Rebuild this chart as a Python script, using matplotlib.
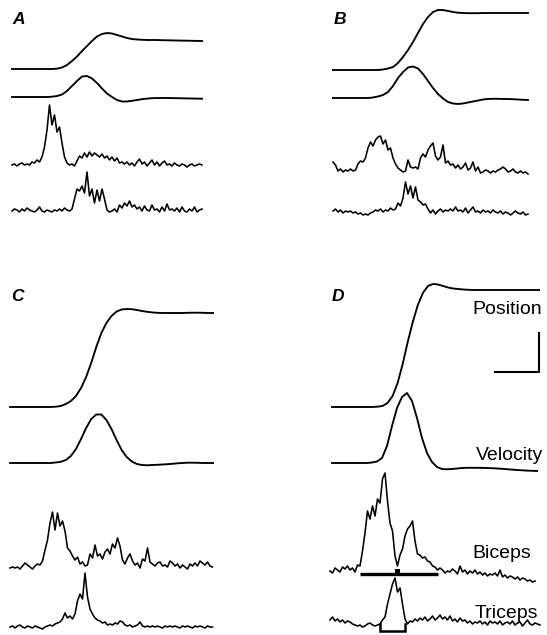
import numpy as np
import matplotlib
matplotlib.use("Agg")
import matplotlib.pyplot as plt

plt.rcParams["font.family"] = ["Liberation Sans", "DejaVu Sans"]

# ---- traces: amplitude above each baseline (picture units), uniform time steps ----
pos_a = [0, 0, 0, 0, 0, 0, 0, 0, 0, 0.3, 1.5, 4, 8, 12.5, 18, 23, 28, 32.5, 35, 36,
         35.5, 34, 32.5, 31, 30, 29.5, 29.2, 29, 29, 29, 28.8, 28.7, 28.6, 28.5, 28.4,
         28.3, 28.2, 28.1, 28]
vel_a = [0, 0, 0, 0, 0, 0, 0, 0, 0.3, 1, 2.5, 6, 11, 16, 20.5, 21, 18.5, 14, 8.5, 3.5,
         0, -3, -4.5, -4.5, -3.8, -3, -2.2, -1.6, -1.2, -1, -1, -1, -1.1, -1.2, -1.3,
         -1.4, -1.5, -1.6, -1.7]
bic_a = [0, 1, -1, 1, 2, 0, 1, 0, 3, 2, 5, 3, 8, 18, 35, 60, 40, 50, 33, 38,
         22, 8, 2, 0, 1, -1, 4, 9, 7, 12, 8, 13, 9, 12, 10, 8, 11, 7, 9, 5,
         8, 4, 7, 2, 3, 1, 3, 0, 2, -1, 3, 6, 1, 3, -1, 2, 5, 0, 3, -1,
         2, 4, 0, 1, -1, 2, 0, -1, 1, 0, -2, 0, 1, -1, 0, 1, 0]
tri_a = [0, 2, 1, -1, 2, 0, 3, 1, 0, -1, 1, 4, 0, -1, 1, 0, -1, 1, 0, 2,
         0, 3, 1, 0, 2, 12, 22, 20, 25, 18, 39, 15, 22, 8, 21, 10, 22, 12, 1, -1,
         0, 2, -1, 6, 3, 8, 5, 10, 4, 6, 2, 4, 0, 5, 1, 0, 6, 1, 2, -1,
         4, 0, 7, 1, 2, 0, 3, -1, 4, 0, -1, 2, 0, 4, -1, 1, 2]

pos_b = [0, 0, 0, 0, 0, 0, 0, 0, 0, 0, 0.5, 1.5, 3, 7, 13, 20, 28, 37, 46, 53,
         58, 60, 60, 59, 58, 57.3, 57, 56.8, 56.8, 56.8, 57, 57, 57, 57, 57, 57, 57,
         57, 57, 57]
vel_b = [0, 0, 0, 0, 0, 0, 0, 0, 0.5, 1.5, 3, 6, 12, 20, 26, 30.5, 31.5, 29.5, 24, 17,
         10, 4, -0.5, -4, -5.5, -6, -5.5, -4.5, -3.5, -2.5, -1.5, -1, -0.8, -0.8, -1,
         -1, -1.2, -1.5, -1.8, -2]
bic_b = [8, 5, -1, 1, -2, 0, -1, 1, -1, 0, 6, 9, 8, 12, 22, 28, 24, 30, 33, 34,
         26, 30, 20, 22, 12, 6, 2, 0, -2, -1, 10, 3, 2, 3, 1, 12, 16, 13, 20, 24,
         27, 14, 10, 13, 25, 7, 9, 5, 6, 2, 5, 1, 3, 7, 0, 2, 8, -1, 3, -3,
         -2, 0, -1, -3, -1, -2, 0, 1, 3, 1, -2, -1, 1, -2, -3, -1, -3, -2, -4]
tri_b = [1, 3, 0, 2, -1, 1, 0, 1, -1, 0, -2, -1, -3, -2, -3, -1, 0, 2, 1, 3,
         0, 2, 1, 4, 2, 3, 9, 6, 14, 30, 18, 26, 14, 25, 12, 10, 7, 8, 3, -1,
         2, -2, 1, 3, 0, 2, 1, 3, 1, 5, 1, 2, 0, 4, -1, 2, 5, 0, 1, -1,
         2, 0, 1, -1, 2, 0, -1, 1, -2, 0, -1, -3, -1, 1, -1, -2, 0, -3, -2]

pos_c = [0, 0, 0, 0, 0, 0, 0, 0, 0, 0.3, 1, 3, 6, 11, 19, 30, 44, 60, 74, 84,
         91, 95.5, 97.5, 98, 97.8, 97, 96, 95.2, 94.6, 94.2, 94, 94, 94, 94, 94, 94.2,
         94.3, 94.3, 94.2, 94, 94]
vel_c = [0, 0, 0, 0, 0, 0, 0, 0, 0, 0.5, 1.2, 3, 7, 14, 24, 35, 44, 48.5, 48.5, 43,
         34, 23, 13, 6, 1.5, -1, -2, -2.3, -2, -1.8, -1.5, -1.2, -0.8, -0.3, 0, 0.3,
         0.3, 0.2, 0, 0, 0]
bic_c = [0, 1, 0, 1, -1, 2, 5, 3, 1, -1, 2, 4, 3, 7, 18, 28, 45, 56, 38, 55,
         42, 47, 37, 20, 17, 12, 8, 11, 4, 6, 2, 3, 14, 10, 23, 12, 14, 9, 16, 19,
         14, 24, 20, 30, 22, 8, 4, 10, 14, 7, 3, 5, 0, 9, 7, 20, 6, 4, 2, 5,
         6, 2, 3, 1, 7, 5, 2, 4, 0, 3, 1, -1, 4, 2, 5, 2, 7, 5, 3, 6, 2, 1]
tri_c = [0, 1, -1, 1, 2, 0, -1, 1, 0, -1, 1, 0, -1, -2, 0, 1, 2, 1, 3, 4,
         5, 8, 14, 9, 11, 8, 13, 26, 33, 28, 54, 30, 18, 13, 9, 7, 6, 4, 5, 2,
         3, 2, 4, 3, 6, 5, 2, 1, 2, 0, 1, 2, 5, 1, 0, 1, 0, 1, 0, 1,
         0, -1, 1, 0, 1, 0, 1, 0, -1, 1, 0, 1, 0, -1, 1, 0, 1, 0, -1, 1, 0, 0]

pos_d = [0, 0, 0, 0, 0, 0, 0, 0, 0, 0.3, 1, 4, 11, 24, 43, 65, 85, 102, 114, 121,
         123, 122.5, 121, 119.5, 118.5, 118, 117.5, 117.2, 117, 117, 117, 117, 117,
         117, 117, 117, 117, 117, 117, 117, 117, 117]
vel_d = [0, 0, 0, 0, 0, 0, 0, 0, 0.5, 1.5, 5, 17, 37, 55, 66, 70, 62, 45, 25, 10,
         1, -4, -6, -6.3, -6, -5.5, -5, -4.8, -4.8, -4.8, -4.9, -5, -5.2, -5.5, -5.8,
         -6.2, -6.6, -7, -7.3, -7.6, -7.8, -8]
bic_d = [0, -2, 3, 1, -1, 4, 2, 5, 1, 3, -1, 6, 5, 20, 38, 60, 52, 65, 55, 72,
         68, 92, 98, 70, 48, 40, 15, 5, 16, 22, 35, 42, 45, 50, 30, 17, 16, 13, 14, 10,
         9, 5, 4, 1, 3, 1, -2, 0, -1, 2, 0, -3, 5, -1, 1, -3, 0, -2, 1, -3,
         -1, -4, -2, -5, -3, -4, -2, -5, 1, -6, -4, -7, -5, -6, -8, -6, -9, -7, -8, -10,
         -9, -11, -10]
tri_d = [2, 5, 1, 3, 0, 2, -1, 1, 0, -2, -3, -4, -3, -5, -4, -2, -1, -3, -4, -3,
         -2, 2, 5, 18, 28, 38, 44, 30, 34, 18, 3, -2, 1, 0, 3, 1, 4, 2, 5, 1,
         3, 6, 2, 4, 7, 3, 5, 2, 6, 1, 3, 0, 4, 1, 2, -1, 1, -2, 0, -1,
         1, -2, 0, -3, 1, -1, 0, -2, 1, -3, -1, 0, -2, 1, -3, -1, 0, -4, -1, 2,
         -2, -3, -1, -2, -3]

# burst markers in panel D, as sample indices into the EMG arrays
bic_d_burst = (12, 43)
bic_d_gap = (26, 28)
tri_d_burst = (20, 30)

labels = ["Position", "Velocity", "Biceps", "Triceps"]
panel_names = ["A", "B", "C", "D"]

# ---- layout: (x start, x end, baseline) in figure pixels ----
layout = {
    "A": [(12, 202, 69), (12, 202, 97), (12, 202, 165), (12, 202, 211)],
    "B": [(333, 528, 70), (333, 528, 98), (333, 528, 170), (333, 528, 212)],
    "C": [(10, 213, 407), (10, 213, 463), (10, 212.5, 568), (10, 212.5, 627)],
    "D": [(332, 539, 407), (332, 537, 463), (330, 535, 571), (330, 540, 622)],
}
traces = {
    "A": [pos_a, vel_a, bic_a, tri_a],
    "B": [pos_b, vel_b, bic_b, tri_b],
    "C": [pos_c, vel_c, bic_c, tri_c],
    "D": [pos_d, vel_d, bic_d, tri_d],
}
letter_xy = {"A": (12, 24), "B": (334, 24), "C": (11, 301), "D": (332, 301)}
label_xy = [(542, 314), (543, 460), (531, 558), (538, 618)]

fig = plt.figure(figsize=(5.47, 6.35), dpi=100)
ax = fig.add_axes([0, 0, 1, 1])
ax.set_xlim(0, 547)
ax.set_ylim(635, 0)
ax.axis("off")

xs = {}
for p in panel_names:
    for k, (vals, (x0, x1, base)) in enumerate(zip(traces[p], layout[p])):
        x = np.linspace(x0, x1, len(vals))
        y = base - np.asarray(vals, dtype=float)
        lw = 1.35 if k < 2 else 1.15
        ax.plot(x, y, color="black", lw=lw, solid_joinstyle="round")
        xs[(p, k)] = (x, base)
    ax.text(*letter_xy[p], p, fontsize=12.5, style="italic", fontweight="bold",
            ha="left", va="baseline")

# burst bars under the EMG in panel D
x, base = xs[("D", 2)]
i0, i1 = bic_d_burst
ax.plot([x[i0], x[i1]], [base + 3, base + 3], color="black", lw=2.4, solid_capstyle="butt")
g0, g1 = bic_d_gap
ax.fill_between([x[g0], x[g1]], base - 2, base + 3, color="black", lw=0)
x, base = xs[("D", 3)]
i0, i1 = tri_d_burst
ax.plot([x[i0], x[i0], x[i1], x[i1]], [base + 2, base + 9, base + 9, base + 2],
        color="black", lw=1.8, solid_joinstyle="miter")

for txt, (tx, ty) in zip(labels, label_xy):
    ax.text(tx, ty, txt, fontsize=14, ha="right", va="baseline")

# calibration bar
ax.plot([495, 539, 539], [372, 372, 333], color="black", lw=1.5)

fig.savefig("out.png", dpi=100, facecolor="white")
plt.close(fig)
